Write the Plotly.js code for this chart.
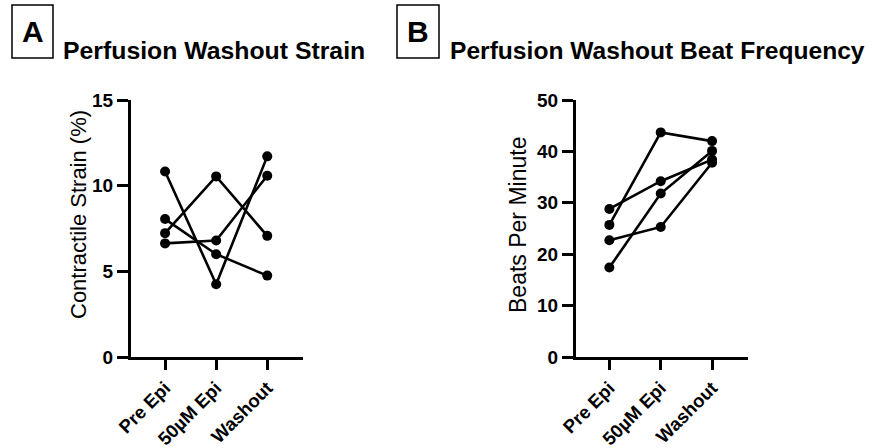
<!DOCTYPE html>
<html>
<head>
<meta charset="utf-8">
<script src="https://cdn.plot.ly/plotly-3.0.1.min.js"></script>
<style>html,body{margin:0;padding:0;background:#fff;}#chart{width:873px;height:448px;}</style>
</head>
<body>
<div id="chart"></div>
<script>
// Categories
const categories = ["Pre Epi", "50\u00b5M Epi", "Washout"];

// Panel A: Contractile Strain (%) — one array per sample
const strainA1 = [10.83, 4.25, 11.71];
const strainA2 = [8.05, 6.0, 4.75];
const strainA3 = [7.23, 10.54, 7.07];
const strainA4 = [6.63, 6.8, 10.58];

// Panel B: Beats Per Minute — one array per sample
const bpmB1 = [25.7, 43.7, 42.0];
const bpmB2 = [28.8, 34.2, 38.4];
const bpmB3 = [17.4, 31.8, 40.1];
const bpmB4 = [22.7, 25.3, 37.8];

// Ticks
const strainTicks = [0, 5, 10, 15];
const bpmTicks = [0, 10, 20, 30, 40, 50];

const W = 873, H = 448;
const px = x => x / W;
const py = y => 1 - y / H;

const FONT = "Arial, 'Liberation Sans', sans-serif";

function series(y, xa, ya) {
  return {
    x: categories, y: y, xaxis: xa, yaxis: ya,
    type: "scatter", mode: "lines+markers",
    line: {color: "#000", width: 2.6},
    marker: {color: "#000", size: 10},
    showlegend: false, cliponaxis: false, hoverinfo: "skip"
  };
}

const data = [
  series(strainA1, "x", "y"), series(strainA2, "x", "y"),
  series(strainA3, "x", "y"), series(strainA4, "x", "y"),
  series(bpmB1, "x2", "y2"), series(bpmB2, "x2", "y2"),
  series(bpmB3, "x2", "y2"), series(bpmB4, "x2", "y2")
];

const xCommon = {
  type: "category", categoryorder: "array", categoryarray: categories,
  showline: true, linecolor: "#000", linewidth: 3,
  ticks: "outside", ticklen: 10, tickwidth: 3, tickcolor: "#000",
  tickangle: -45, showgrid: false, zeroline: false,
  tickfont: {family: FONT, size: 18.5, color: "#000", weight: "bold"},
  fixedrange: true
};
const yCommon = {
  showline: true, linecolor: "#000", linewidth: 3,
  ticks: "outside", ticklen: 11, tickwidth: 3, tickcolor: "#000",
  showgrid: false, zeroline: false,
  tickfont: {family: FONT, size: 19, color: "#000", weight: "bold"},
  domain: [py(357), py(100)], fixedrange: true
};

const layout = {
  width: W, height: H,
  margin: {l: 0, r: 0, t: 0, b: 0, pad: 0},
  paper_bgcolor: "#fff", plot_bgcolor: "#fff",
  font: {family: FONT, color: "#000"},
  xaxis: Object.assign({}, xCommon, {domain: [px(131), px(303)], range: [-0.667, 2.7], anchor: "y"}),
  yaxis: Object.assign({}, yCommon, {range: [0, 15], tickvals: strainTicks, anchor: "x"}),
  xaxis2: Object.assign({}, xCommon, {domain: [px(576), px(748)], range: [-0.65, 2.7], anchor: "y2"}),
  yaxis2: Object.assign({}, yCommon, {range: [0, 50], tickvals: bpmTicks, anchor: "x2"}),
  shapes: [
    {type: "rect", xref: "paper", yref: "paper", x0: px(12), x1: px(53), y0: py(58), y1: py(5), line: {color: "#000", width: 1.5}},
    {type: "rect", xref: "paper", yref: "paper", x0: px(397), x1: px(439), y0: py(58), y1: py(5), line: {color: "#000", width: 1.5}}
  ],
  annotations: [
    {text: "A", xref: "paper", yref: "paper", x: px(32.5), y: py(32), xanchor: "center", yanchor: "middle", showarrow: false,
     font: {family: FONT, size: 30, color: "#000", weight: "bold"}},
    {text: "B", xref: "paper", yref: "paper", x: px(418), y: py(32), xanchor: "center", yanchor: "middle", showarrow: false,
     font: {family: FONT, size: 30, color: "#000", weight: "bold"}},
    {text: "Perfusion Washout Strain", xref: "paper", yref: "paper", x: px(213.5), y: py(50), xanchor: "center", yanchor: "middle", showarrow: false,
     font: {family: FONT, size: 24.8, color: "#000", weight: "bold"}},
    {text: "Perfusion Washout Beat Frequency", xref: "paper", yref: "paper", x: px(657.5), y: py(50), xanchor: "center", yanchor: "middle", showarrow: false,
     font: {family: FONT, size: 24.6, color: "#000", weight: "bold"}},
    {text: "Contractile Strain (%)", xref: "paper", yref: "paper", x: px(78), y: py(215), xanchor: "center", yanchor: "middle", showarrow: false,
     textangle: -90, font: {family: FONT, size: 22, color: "#000"}},
    {text: "Beats Per Minute", xref: "paper", yref: "paper", x: px(518), y: py(225), xanchor: "center", yanchor: "middle", showarrow: false,
     textangle: -90, font: {family: FONT, size: 23, color: "#000"}}
  ]
};

Plotly.newPlot("chart", data, layout, {staticPlot: true, displayModeBar: false});
</script>
</body>
</html>
